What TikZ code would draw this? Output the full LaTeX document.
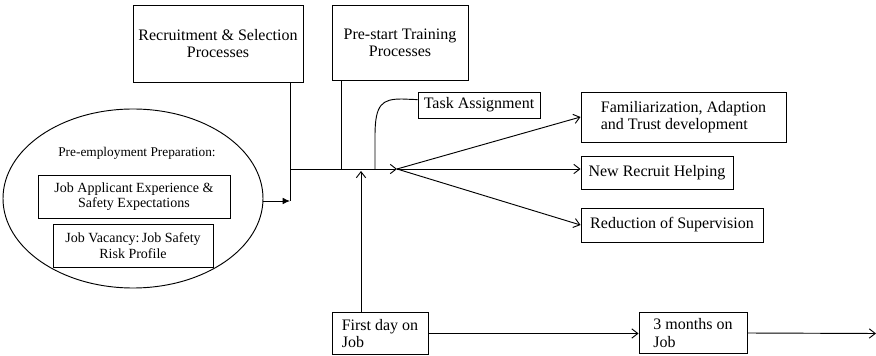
\documentclass[tikz,border=0pt]{standalone}
\usepackage{fontspec}
\setmainfont{Liberation Serif}
\usetikzlibrary{arrows.meta,shapes.geometric}
\begin{document}
\begin{tikzpicture}[x=0.75pt,y=-0.75pt,
  box/.style={draw, line width=0.7pt, inner sep=0pt, align=center,
    font=\fontsize{12}{13}\selectfont},
  lbox/.style={box, align=left},
  sbox/.style={box, font=\fontsize{10.5}{11.5}\selectfont},
  ln/.style={line width=0.7pt},
  arr/.style={ln, -{Straight Barb[length=4.5pt,width=7pt]}},
  farr/.style={ln, -{Latex[length=5.5pt,width=5pt]}}]
\useasboundingbox (0,0) rectangle (876,356);

% boxes
\node[box, minimum width=127.5pt, minimum height=57.75pt] (rec) at (218,43.5)
  {Recruitment \& Selection\\Processes};
\node[box, minimum width=102pt, minimum height=56.25pt] (pre) at (400,42.5)
  {Pre-start Training\\Processes};
\node[box, minimum width=91.5pt, minimum height=19.5pt] (task) at (479,105)
  {Task Assignment};
\node[lbox, minimum width=153.75pt, minimum height=37.5pt] (fam) at (683.5,117)
  {Familiarization, Adaption\\and Trust development};
\node[box, minimum width=114pt, minimum height=24.75pt] (new) at (657,172.5)
  {New Recruit Helping};
\node[box, minimum width=136.5pt, minimum height=25.5pt] (red) at (672,225)
  {Reduction of Supervision};
\node[lbox, minimum width=72pt, minimum height=31.5pt] (first) at (380,333.5)
  {First day on\\Job};
\node[lbox, minimum width=81pt, minimum height=30.75pt] (three) at (693,333)
  {3 months on\\Job};

% ellipse group
\node[draw, ellipse, line width=0.7pt, inner sep=0pt,
  minimum width=195pt, minimum height=134.25pt] (ell) at (133,198.5) {};
\node[font=\fontsize{10}{11}\selectfont, inner sep=0pt] (prep) at (137,153)
  {Pre-employment Preparation:};
\node[sbox, minimum width=144pt, minimum height=32.25pt] (app) at (134,196.5)
  {Job Applicant Experience \&\\Safety Expectations};
\node[sbox, minimum width=120pt, minimum height=32.25pt] (vac) at (133,245.5)
  {Job Vacancy:\,Job Safety\\Risk Profile};

% junction coordinates
\coordinate (jA) at (290,201);
\coordinate (jB) at (290,169);
\coordinate (pc) at (341,169);
\coordinate (tc) at (375,169);
\coordinate (hub) at (397,169);
\coordinate (fd) at (361,171);
\coordinate (endpt) at (876,333.5);

% connectors
\draw[ln] (rec.south -| jA) -- (jA);
\draw[ln] (pre.south -| pc) -- (pc);
\draw[farr] (ell.east |- jA) -- (jA);
\draw[arr] (jB) -- (hub);
\draw[ln] (tc) -- (375,136) .. controls (375,104) and (382,99) .. (402,99) -- (task.175);
\draw[arr] (first.north -| fd) -- (fd);
\draw[arr] (hub) -- (fam.west);
\draw[arr] (hub) -- (new.west |- hub);
\draw[arr] (hub) -- (red.west);
\draw[arr] (first.east) -- (three.west |- first.east);
\draw[arr] (three.east) -- (endpt);
\end{tikzpicture}
\end{document}
